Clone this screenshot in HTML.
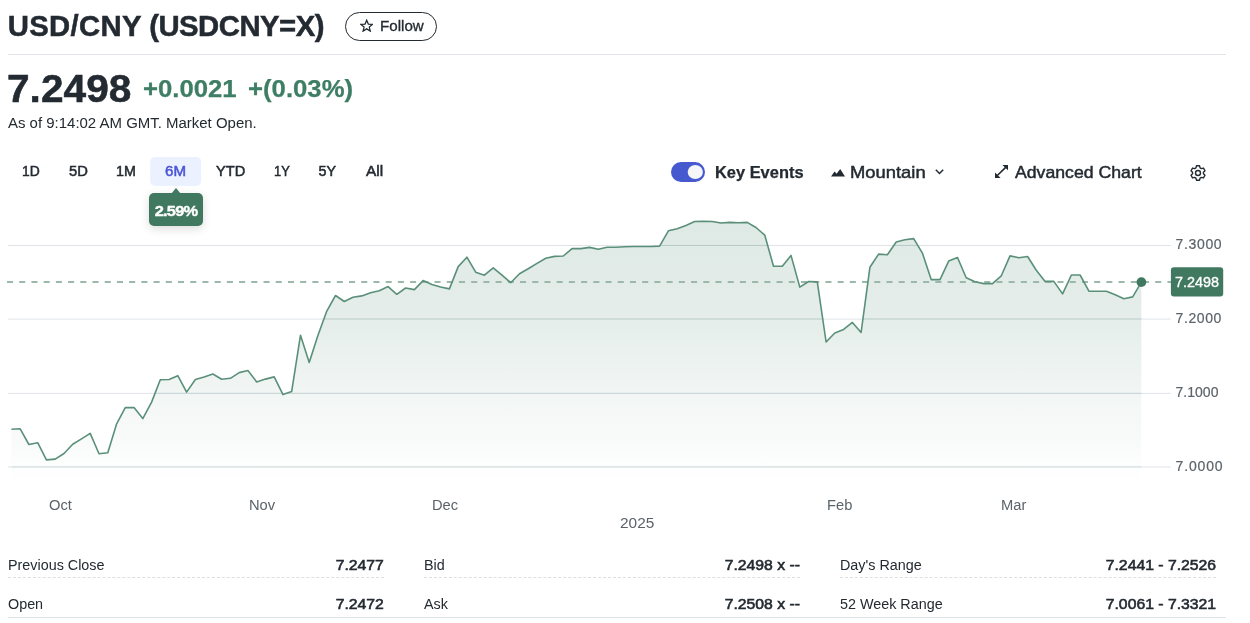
<!DOCTYPE html>
<html lang="en">
<head>
<meta charset="utf-8">
<title>USD/CNY (USDCNY=X)</title>
<style>
*{box-sizing:border-box;margin:0;padding:0}
html,body{width:1250px;height:623px;overflow:hidden;background:#fff}
body{font-family:"Liberation Sans",Arial,sans-serif;color:#232a31;position:relative}
.abs{position:absolute}
.t{position:absolute;white-space:nowrap;line-height:1}
.follow{position:absolute;left:345px;top:12px;width:92px;height:29px;border:1.2px solid #232a31;border-radius:15px}
.hr{position:absolute;left:8px;top:54px;width:1218px;height:1px;background:#e0e4e9}
.sel{position:absolute;left:150.5px;top:157px;width:50.5px;height:29px;background:#eaf1fe;border-radius:5px}
.tip{position:absolute;left:149px;top:193px;width:54px;height:33px;background:#417860;border-radius:5px;box-shadow:0 3px 10px rgba(0,0,0,.14)}
.tip:before{content:"";position:absolute;left:21.500px;top:-5px;border-left:5.5px solid transparent;border-right:5.5px solid transparent;border-bottom:6px solid #417860}
.toggle{position:absolute;left:671px;top:162px;width:34px;height:20px;border-radius:10px;background:#4759cf}
.toggle i{position:absolute;right:2.500px;top:2.500px;width:15px;height:15px;border-radius:8px;background:#f4f6f8}
.tag{position:absolute;left:1171px;top:267.5px;width:52.2px;height:29px;background:#417860;border-radius:3px}
.dl{position:absolute;width:376px;height:0;border-top:1px dashed #dcdfe4;top:577px}
.sl{position:absolute;left:8px;top:617px;width:1218px;height:1px;background:#dfe3e8}
</style>
</head>
<body>
<div class="follow"></div>
<svg class="abs" style="left:359.800px;top:18.600px" width="13.400" height="13.400" viewBox="0 0 14 14" fill="none" stroke="#232a31" stroke-width="1.300" stroke-linejoin="miter"><path d="M7 1.200 L8.700 5.300 L13.100 5.600 L9.700 8.400 L10.800 12.700 L7 10.300 L3.200 12.700 L4.300 8.400 L0.900 5.600 L5.300 5.300 Z"/></svg>
<div class="hr"></div>
<svg class="abs" style="left:0;top:150px" width="260" height="40"><rect x="150.200" y="6.900" width="50.900" height="29" rx="5" fill="#ebf1fe"/></svg>
<div class="tip"></div>
<div class="t" style="left:148.500px;top:204px;width:54px;text-align:center;font-size:14.8px;font-weight:700;color:#fff;letter-spacing:-0.700px;transform:scaleX(1.110);-webkit-text-stroke:0.35px #fff">2.59%</div>

<svg class="abs" style="left:671px;top:162px" width="34" height="20" viewBox="0 0 34 20"><rect width="34" height="20" rx="10" fill="#4759cf"/><ellipse cx="24.300" cy="10" rx="7.600" ry="7.100" fill="#f4f6f8"/></svg>
<svg class="abs" style="left:831px;top:168.500px" width="14" height="8" viewBox="0 0 14 8"><path d="M0 7.500 L3.600 2.500 L5.600 4.800 L9.200 0 L14 7.500 Z" fill="#232a31"/></svg>
<svg class="abs" style="left:935px;top:169px" width="9" height="6" viewBox="0 0 9 6"><path d="M0.800 0.800 L4.500 4.500 L8.200 0.800" fill="none" stroke="#232a31" stroke-width="1.500"/></svg>
<svg class="abs" style="left:995px;top:165px" width="13" height="13" viewBox="0 0 13 13"><path d="M7.400 0 H13 V5.300 Z M0 7.500 V13 H5.600 Z" fill="#232a31"/><path d="M2.300 10.500 L10.700 2.400" stroke="#232a31" stroke-width="1.600" fill="none"/></svg>
<svg class="abs" style="left:1189.800px;top:164.800px" width="16" height="16" viewBox="0 0 16 16" fill="none" stroke="#232a31" stroke-width="1.400" stroke-linejoin="round"><circle cx="8" cy="8" r="2.500"/><path d="M9.53 0.81 L6.47 0.81 L5.94 2.90 L4.61 3.67 L2.54 3.08 L1.01 5.73 L2.55 7.23 L2.55 8.77 L1.01 10.27 L2.54 12.92 L4.61 12.33 L5.94 13.10 L6.47 15.19 L9.53 15.19 L10.06 13.10 L11.39 12.33 L13.46 12.92 L14.99 10.27 L13.45 8.77 L13.45 7.23 L14.99 5.73 L13.46 3.08 L11.39 3.67 L10.06 2.90 Z"/></svg>

<svg class="abs" style="left:0;top:0" width="1250" height="500" viewBox="0 0 1250 500">
<defs>
<linearGradient id="g" x1="0" y1="221" x2="0" y2="482" gradientUnits="userSpaceOnUse">
<stop offset="0" stop-color="#3c7c62" stop-opacity="0.168"/>
<stop offset="0.4" stop-color="#3c7c62" stop-opacity="0.130"/>
<stop offset="0.72" stop-color="#3c7c62" stop-opacity="0.055"/>
<stop offset="1" stop-color="#3c7c62" stop-opacity="0"/>
</linearGradient>
<clipPath id="cp"><path d="M11.4 429.3 L20.2 428.8 L28.9 444.5 L37.7 442.7 L46.4 459.9 L55.2 459.1 L64.0 453.5 L72.7 444.3 L81.5 438.9 L90.2 433.4 L99.0 453.7 L107.8 452.7 L116.5 424.2 L125.3 407.6 L134.0 407.6 L142.8 418.6 L151.6 402.1 L160.3 379.7 L169.1 379.5 L177.8 375.7 L186.6 392.1 L195.4 379.5 L204.1 376.9 L212.9 374.0 L221.6 379.3 L230.4 378.3 L239.2 372.6 L247.9 370.5 L256.7 381.9 L265.4 379.1 L274.2 376.9 L283.0 394.6 L291.7 391.4 L300.5 335.2 L309.2 362.5 L318.0 335.2 L326.8 311.1 L335.5 295.5 L344.3 301.5 L353.0 297.3 L361.8 295.9 L370.6 292.7 L379.3 290.7 L388.1 286.6 L396.8 294.3 L405.6 288.0 L414.4 289.6 L423.1 280.6 L431.9 284.4 L440.6 287.0 L449.4 288.9 L458.2 266.6 L466.9 257.2 L475.7 272.2 L484.4 275.2 L493.2 267.8 L502.0 275.2 L510.7 282.7 L519.5 273.8 L528.2 268.8 L537.0 263.4 L545.8 258.2 L554.5 256.4 L563.3 256.0 L572.0 248.6 L580.8 248.6 L589.6 247.4 L598.3 249.2 L607.1 247.2 L615.8 247.2 L624.6 246.8 L633.4 246.5 L642.1 246.5 L650.9 246.5 L659.6 246.1 L668.4 230.8 L677.2 228.7 L685.9 225.4 L694.7 221.5 L703.4 221.2 L712.2 221.5 L721.0 223.0 L729.7 222.4 L738.5 222.8 L747.2 222.4 L756.0 227.5 L764.8 235.2 L773.5 266.2 L782.3 266.2 L791.0 255.4 L799.8 287.1 L808.6 281.5 L817.3 281.9 L826.1 342.0 L834.8 333.0 L843.6 329.4 L852.4 322.4 L861.1 332.5 L869.9 267.3 L878.6 254.1 L887.4 254.7 L896.2 242.0 L904.9 239.8 L913.7 238.6 L922.4 253.1 L931.2 279.6 L940.0 279.6 L948.7 261.1 L957.5 257.5 L966.2 277.8 L975.0 281.8 L983.8 283.6 L992.5 283.6 L1001.3 275.8 L1010.0 255.9 L1018.8 257.7 L1027.6 256.5 L1036.3 270.2 L1045.1 281.4 L1053.8 281.4 L1062.6 293.9 L1071.4 275.0 L1080.1 275.0 L1088.9 291.2 L1097.6 291.2 L1106.4 291.2 L1115.2 294.7 L1123.9 298.7 L1132.7 296.9 L1141.4 282.2 L1141.4 482 L11.4 482 Z"/></clipPath>
</defs>
<g stroke="#e0e4e9" stroke-width="1">
<line x1="8" x2="1170.800" y1="245.500" y2="245.500"/>
<line x1="8" x2="1170.800" y1="319.100" y2="319.100"/>
<line x1="8" x2="1170.800" y1="393.400" y2="393.400"/>
<line x1="8" x2="1170.800" y1="467" y2="467"/>
</g>
<path d="M11.4 429.3 L20.2 428.8 L28.9 444.5 L37.7 442.7 L46.4 459.9 L55.2 459.1 L64.0 453.5 L72.7 444.3 L81.5 438.9 L90.2 433.4 L99.0 453.7 L107.8 452.7 L116.5 424.2 L125.3 407.6 L134.0 407.6 L142.8 418.6 L151.6 402.1 L160.3 379.7 L169.1 379.5 L177.8 375.7 L186.6 392.1 L195.4 379.5 L204.1 376.9 L212.9 374.0 L221.6 379.3 L230.4 378.3 L239.2 372.6 L247.9 370.5 L256.7 381.9 L265.4 379.1 L274.2 376.9 L283.0 394.6 L291.7 391.4 L300.5 335.2 L309.2 362.5 L318.0 335.2 L326.8 311.1 L335.5 295.5 L344.3 301.5 L353.0 297.3 L361.8 295.9 L370.6 292.7 L379.3 290.7 L388.1 286.6 L396.8 294.3 L405.6 288.0 L414.4 289.6 L423.1 280.6 L431.9 284.4 L440.6 287.0 L449.4 288.9 L458.2 266.6 L466.9 257.2 L475.7 272.2 L484.4 275.2 L493.2 267.8 L502.0 275.2 L510.7 282.7 L519.5 273.8 L528.2 268.8 L537.0 263.4 L545.8 258.2 L554.5 256.4 L563.3 256.0 L572.0 248.6 L580.8 248.6 L589.6 247.4 L598.3 249.2 L607.1 247.2 L615.8 247.2 L624.6 246.8 L633.4 246.5 L642.1 246.5 L650.9 246.5 L659.6 246.1 L668.4 230.8 L677.2 228.7 L685.9 225.4 L694.7 221.5 L703.4 221.2 L712.2 221.5 L721.0 223.0 L729.7 222.4 L738.5 222.8 L747.2 222.4 L756.0 227.5 L764.8 235.2 L773.5 266.2 L782.3 266.2 L791.0 255.4 L799.8 287.1 L808.6 281.5 L817.3 281.9 L826.1 342.0 L834.8 333.0 L843.6 329.4 L852.4 322.4 L861.1 332.5 L869.9 267.3 L878.6 254.1 L887.4 254.7 L896.2 242.0 L904.9 239.8 L913.7 238.6 L922.4 253.1 L931.2 279.6 L940.0 279.6 L948.7 261.1 L957.5 257.5 L966.2 277.8 L975.0 281.8 L983.8 283.6 L992.5 283.6 L1001.3 275.8 L1010.0 255.9 L1018.8 257.7 L1027.6 256.5 L1036.3 270.2 L1045.1 281.4 L1053.8 281.4 L1062.6 293.9 L1071.4 275.0 L1080.1 275.0 L1088.9 291.2 L1097.6 291.2 L1106.4 291.2 L1115.2 294.7 L1123.9 298.7 L1132.7 296.9 L1141.4 282.2 L1141.4 482 L11.4 482 Z" fill="url(#g)"/>
<g stroke="#7fa99b" stroke-opacity="0.200" stroke-width="1" clip-path="url(#cp)">
<line x1="8" x2="1170.800" y1="245.400" y2="245.400"/>
<line x1="8" x2="1170.800" y1="318.800" y2="318.800"/>
<line x1="8" x2="1170.800" y1="393.200" y2="393.200"/>
<line x1="8" x2="1170.800" y1="466.800" y2="466.800"/>
</g>
<line x1="7" x2="1171" y1="282.100" y2="282.100" stroke="#9bb8ab" stroke-width="2" stroke-dasharray="6.050 6.165"/>
<path d="M11.4 429.3 L20.2 428.8 L28.9 444.5 L37.7 442.7 L46.4 459.9 L55.2 459.1 L64.0 453.5 L72.7 444.3 L81.5 438.9 L90.2 433.4 L99.0 453.7 L107.8 452.7 L116.5 424.2 L125.3 407.6 L134.0 407.6 L142.8 418.6 L151.6 402.1 L160.3 379.7 L169.1 379.5 L177.8 375.7 L186.6 392.1 L195.4 379.5 L204.1 376.9 L212.9 374.0 L221.6 379.3 L230.4 378.3 L239.2 372.6 L247.9 370.5 L256.7 381.9 L265.4 379.1 L274.2 376.9 L283.0 394.6 L291.7 391.4 L300.5 335.2 L309.2 362.5 L318.0 335.2 L326.8 311.1 L335.5 295.5 L344.3 301.5 L353.0 297.3 L361.8 295.9 L370.6 292.7 L379.3 290.7 L388.1 286.6 L396.8 294.3 L405.6 288.0 L414.4 289.6 L423.1 280.6 L431.9 284.4 L440.6 287.0 L449.4 288.9 L458.2 266.6 L466.9 257.2 L475.7 272.2 L484.4 275.2 L493.2 267.8 L502.0 275.2 L510.7 282.7 L519.5 273.8 L528.2 268.8 L537.0 263.4 L545.8 258.2 L554.5 256.4 L563.3 256.0 L572.0 248.6 L580.8 248.6 L589.6 247.4 L598.3 249.2 L607.1 247.2 L615.8 247.2 L624.6 246.8 L633.4 246.5 L642.1 246.5 L650.9 246.5 L659.6 246.1 L668.4 230.8 L677.2 228.7 L685.9 225.4 L694.7 221.5 L703.4 221.2 L712.2 221.5 L721.0 223.0 L729.7 222.4 L738.5 222.8 L747.2 222.4 L756.0 227.5 L764.8 235.2 L773.5 266.2 L782.3 266.2 L791.0 255.4 L799.8 287.1 L808.6 281.5 L817.3 281.9 L826.1 342.0 L834.8 333.0 L843.6 329.4 L852.4 322.4 L861.1 332.5 L869.9 267.3 L878.6 254.1 L887.4 254.7 L896.2 242.0 L904.9 239.8 L913.7 238.6 L922.4 253.1 L931.2 279.6 L940.0 279.6 L948.7 261.1 L957.5 257.5 L966.2 277.8 L975.0 281.8 L983.8 283.6 L992.5 283.6 L1001.3 275.8 L1010.0 255.9 L1018.8 257.7 L1027.6 256.5 L1036.3 270.2 L1045.1 281.4 L1053.8 281.4 L1062.6 293.9 L1071.4 275.0 L1080.1 275.0 L1088.9 291.2 L1097.6 291.2 L1106.4 291.2 L1115.2 294.7 L1123.9 298.7 L1132.7 296.9 L1141.4 282.2" fill="none" stroke="#5a907a" stroke-width="1.600" stroke-linejoin="round"/>
<circle cx="1141.400" cy="282.100" r="4.900" fill="#417860"/>
<rect x="1170.900" y="267.300" width="52.300" height="29.200" rx="3" fill="#417860"/>
</svg>
<div class="t" style="font-size:15.4px;line-height:17px;font-weight:400;color:#fff;top:273px;left:1174.7px;transform-origin:0 0;transform:scaleX(0.935);-webkit-text-stroke:0.35px #fff;">7.2498</div>

<div class="dl" style="left:8px"></div>
<div class="dl" style="left:424px"></div>
<div class="dl" style="left:840px"></div>
<div class="sl"></div>
<div class="t" style="font-size:29.3px;line-height:33px;font-weight:700;color:#232a31;top:9px;left:7.7px;transform-origin:0 0;-webkit-text-stroke:0.5px #232a31;letter-spacing:-0.5px;word-spacing:-0.5px;"><span style="letter-spacing:0.35px">USD/CNY</span> (USDCNY=X)</div>
<div class="t" style="font-size:14.7px;line-height:16px;font-weight:400;color:#232a31;top:18px;left:380px;transform-origin:0 0;transform:scaleX(1.03);-webkit-text-stroke:0.3px #232a31;">Follow</div>
<div class="t" style="font-size:38.3px;line-height:43px;font-weight:700;color:#232a31;top:67px;left:7.3px;transform-origin:0 0;transform:scaleX(1.062);-webkit-text-stroke:0.5px #232a31;">7.2498</div>
<div class="t" style="font-size:23.6px;line-height:26px;font-weight:700;color:#3e7e64;top:76px;left:143px;transform-origin:0 0;transform:scaleX(1.09);-webkit-text-stroke:0.25px #3e7e64;">+0.0021</div>
<div class="t" style="font-size:23.6px;line-height:26px;font-weight:700;color:#3e7e64;top:76px;left:248px;transform-origin:0 0;transform:scaleX(1.09);-webkit-text-stroke:0.25px #3e7e64;">+(0.03%)</div>
<div class="t" style="font-size:14px;line-height:16px;font-weight:400;color:#232a31;top:115px;left:8px;transform-origin:0 0;transform:scaleX(1.069);">As of 9:14:02 AM GMT. Market Open.</div>
<div class="t" style="font-size:14.3px;line-height:16px;font-weight:400;color:#232a31;top:163px;left:21.6px;transform-origin:0 0;transform:scaleX(0.97);-webkit-text-stroke:0.5px #232a31;">1D</div>
<div class="t" style="font-size:14.3px;line-height:16px;font-weight:400;color:#232a31;top:163px;left:68.5px;transform-origin:0 0;transform:scaleX(1.03);-webkit-text-stroke:0.5px #232a31;">5D</div>
<div class="t" style="font-size:14.3px;line-height:16px;font-weight:400;color:#232a31;top:163px;left:116px;transform-origin:0 0;-webkit-text-stroke:0.5px #232a31;">1M</div>
<div class="t" style="font-size:14.3px;line-height:16px;font-weight:400;color:#232a31;top:163px;left:216px;transform-origin:0 0;transform:scaleX(1.02);-webkit-text-stroke:0.5px #232a31;">YTD</div>
<div class="t" style="font-size:14.3px;line-height:16px;font-weight:400;color:#232a31;top:163px;left:273.5px;transform-origin:0 0;transform:scaleX(0.9);-webkit-text-stroke:0.5px #232a31;">1Y</div>
<div class="t" style="font-size:14.3px;line-height:16px;font-weight:400;color:#232a31;top:163px;left:318.5px;transform-origin:0 0;-webkit-text-stroke:0.5px #232a31;">5Y</div>
<div class="t" style="font-size:14.3px;line-height:16px;font-weight:400;color:#232a31;top:163px;left:365.5px;transform-origin:0 0;transform:scaleX(1.08);-webkit-text-stroke:0.5px #232a31;">All</div>
<div class="t" style="font-size:14.3px;line-height:16px;font-weight:400;color:#4a55d6;top:163px;left:165px;transform-origin:0 0;transform:scaleX(1.06);-webkit-text-stroke:0.5px #4a55d6;">6M</div>
<div class="t" style="font-size:16.1px;line-height:18px;font-weight:700;color:#232a31;top:163px;left:715px;transform-origin:0 0;transform:scaleX(1.02);-webkit-text-stroke:0.25px #232a31;">Key Events</div>
<div class="t" style="font-size:16.1px;line-height:18px;font-weight:400;color:#232a31;top:163px;left:850px;transform-origin:0 0;transform:scaleX(1.142);-webkit-text-stroke:0.45px #232a31;">Mountain</div>
<div class="t" style="font-size:16.1px;line-height:18px;font-weight:400;color:#232a31;top:163px;left:1014.5px;transform-origin:0 0;transform:scaleX(1.098);-webkit-text-stroke:0.45px #232a31;">Advanced Chart</div>
<div class="t" style="font-size:14px;line-height:16px;font-weight:400;color:#5b636a;top:236px;left:1175.5px;transform-origin:0 0;-webkit-text-stroke:0.2px #5b636a;letter-spacing:0.66px;">7.3000</div>
<div class="t" style="font-size:14px;line-height:16px;font-weight:400;color:#5b636a;top:310px;left:1175.5px;transform-origin:0 0;-webkit-text-stroke:0.2px #5b636a;letter-spacing:0.6px;">7.2000</div>
<div class="t" style="font-size:14px;line-height:16px;font-weight:400;color:#5b636a;top:384px;left:1175.5px;transform-origin:0 0;-webkit-text-stroke:0.2px #5b636a;letter-spacing:0.02px;">7.1000</div>
<div class="t" style="font-size:14px;line-height:16px;font-weight:400;color:#5b636a;top:458px;left:1175.5px;transform-origin:0 0;-webkit-text-stroke:0.2px #5b636a;letter-spacing:0.85px;">7.0000</div>
<div class="t" style="font-size:14px;line-height:16px;font-weight:400;color:#5b636a;top:497px;left:48.5px;transform-origin:0 0;transform:scaleX(1.05);">Oct</div>
<div class="t" style="font-size:14px;line-height:16px;font-weight:400;color:#5b636a;top:497px;left:249px;transform-origin:0 0;transform:scaleX(1.05);">Nov</div>
<div class="t" style="font-size:14px;line-height:16px;font-weight:400;color:#5b636a;top:497px;left:432px;transform-origin:0 0;transform:scaleX(1.05);">Dec</div>
<div class="t" style="font-size:14px;line-height:16px;font-weight:400;color:#5b636a;top:497px;left:827px;transform-origin:0 0;transform:scaleX(1.05);">Feb</div>
<div class="t" style="font-size:14px;line-height:16px;font-weight:400;color:#5b636a;top:497px;left:1001px;transform-origin:0 0;transform:scaleX(1.05);">Mar</div>
<div class="t" style="font-size:14px;line-height:16px;font-weight:400;color:#5b636a;top:515px;left:620px;transform-origin:0 0;transform:scaleX(1.1);">2025</div>
<div class="t" style="font-size:14px;line-height:16px;font-weight:400;color:#232a31;top:557px;left:8px;transform-origin:0 0;transform:scaleX(1.025);">Previous Close</div>
<div class="t" style="font-size:14px;line-height:16px;font-weight:400;color:#232a31;top:557px;right:866px;transform-origin:100% 0;transform:scaleX(1.125);-webkit-text-stroke:0.55px #232a31;">7.2477</div>
<div class="t" style="font-size:14px;line-height:16px;font-weight:400;color:#232a31;top:596px;left:8px;transform-origin:0 0;transform:scaleX(1.025);">Open</div>
<div class="t" style="font-size:14px;line-height:16px;font-weight:400;color:#232a31;top:596px;right:866px;transform-origin:100% 0;transform:scaleX(1.125);-webkit-text-stroke:0.55px #232a31;">7.2472</div>
<div class="t" style="font-size:14px;line-height:16px;font-weight:400;color:#232a31;top:557px;left:424px;transform-origin:0 0;transform:scaleX(1.025);">Bid</div>
<div class="t" style="font-size:14px;line-height:16px;font-weight:400;color:#232a31;top:557px;right:450px;transform-origin:100% 0;transform:scaleX(1.125);-webkit-text-stroke:0.55px #232a31;">7.2498 x --</div>
<div class="t" style="font-size:14px;line-height:16px;font-weight:400;color:#232a31;top:596px;left:424px;transform-origin:0 0;transform:scaleX(1.025);">Ask</div>
<div class="t" style="font-size:14px;line-height:16px;font-weight:400;color:#232a31;top:596px;right:450px;transform-origin:100% 0;transform:scaleX(1.125);-webkit-text-stroke:0.55px #232a31;">7.2508 x --</div>
<div class="t" style="font-size:14px;line-height:16px;font-weight:400;color:#232a31;top:557px;left:840px;transform-origin:0 0;transform:scaleX(1.025);">Day's Range</div>
<div class="t" style="font-size:14px;line-height:16px;font-weight:400;color:#232a31;top:557px;right:34px;transform-origin:100% 0;transform:scaleX(1.125);-webkit-text-stroke:0.55px #232a31;">7.2441 - 7.2526</div>
<div class="t" style="font-size:14px;line-height:16px;font-weight:400;color:#232a31;top:596px;left:840px;transform-origin:0 0;transform:scaleX(1.025);">52 Week Range</div>
<div class="t" style="font-size:14px;line-height:16px;font-weight:400;color:#232a31;top:596px;right:34px;transform-origin:100% 0;transform:scaleX(1.125);-webkit-text-stroke:0.55px #232a31;">7.0061 - 7.3321</div>
</body>
</html>
